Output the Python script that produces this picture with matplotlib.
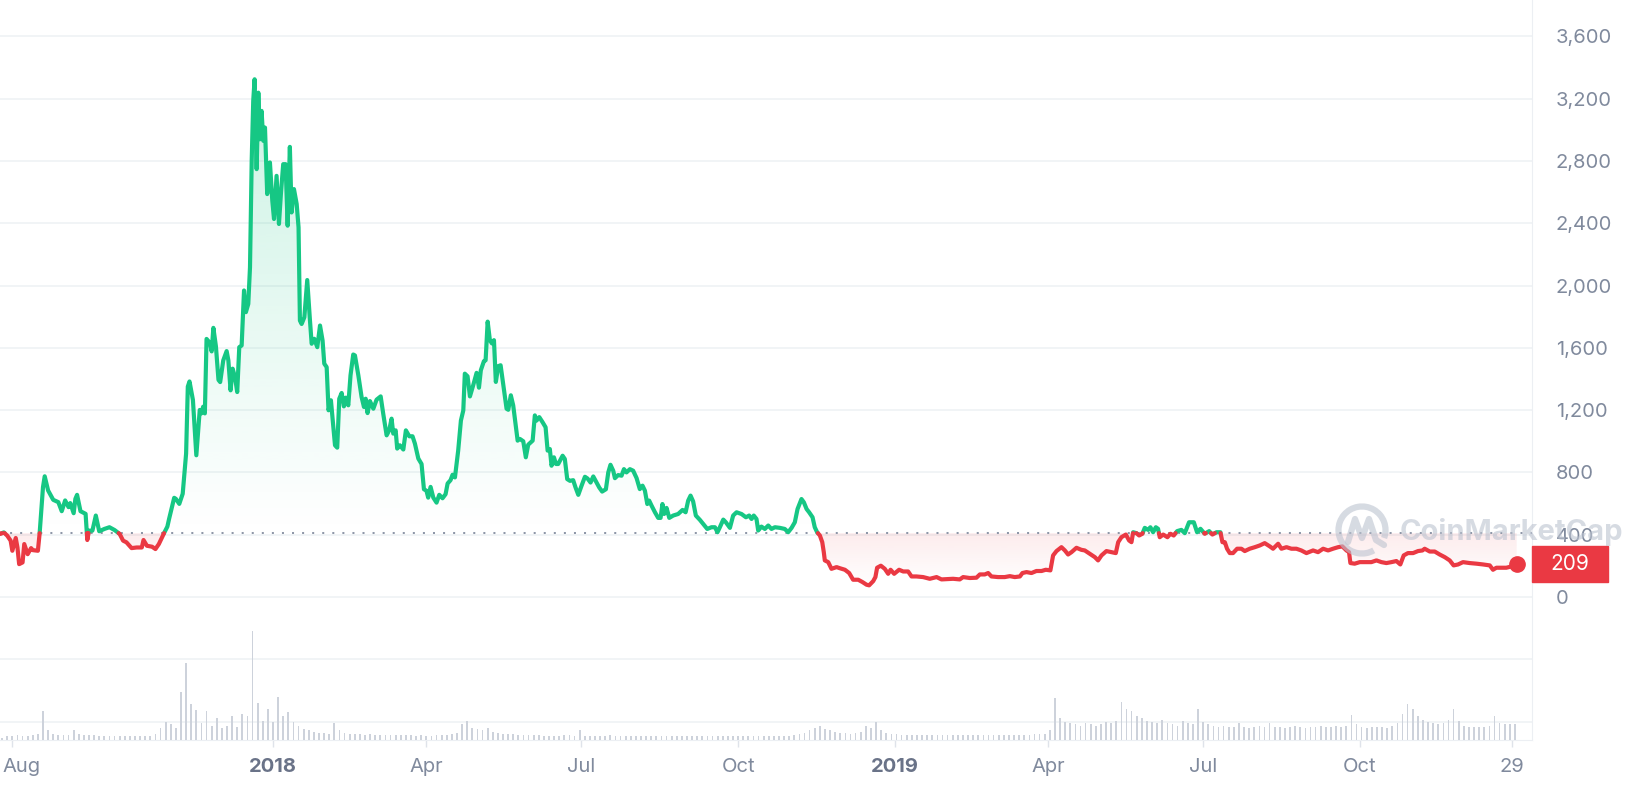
import matplotlib.pyplot as plt
import matplotlib.dates as mdates
import matplotlib.transforms as mtransforms
from matplotlib.patches import Rectangle, Arc
from matplotlib.path import Path
from matplotlib.colors import to_rgb
from matplotlib.ticker import FuncFormatter
import numpy as np
import pandas as pd

plt.rcParams['font.family'] = ['Inter', 'DejaVu Sans']

# price history, days counted from 2017-07-23
start = pd.Timestamp('2017-07-23')
ref_price = 410

day = [1, 2, 4, 6, 8, 9, 11, 12, 13, 15, 16, 18, 20, 21, 24, 25, 27, 28, 30, 33,
       36, 38, 40, 42, 43, 45, 46, 47, 49, 52, 53, 54, 56, 58, 60, 63, 66, 69, 72, 74,
       76, 79, 82, 85, 86, 88, 91, 93, 95, 98, 100, 101, 104, 105, 107, 109, 111, 112, 113, 115,
       117, 119, 120, 121, 122, 123, 125, 126, 127, 128.5,
       130, 131, 132.8, 134.8, 135.8, 137.1, 138.3, 139.7, 141, 142.2, 143.6, 145, 146.1, 147.5, 148.5,
       149.5, 150.4, 151.2, 152.4, 153.4, 154.3, 155.3, 156.3, 157.3, 158.6, 160.2, 161.6, 162.6, 164.1,
       165.5, 166.7, 168, 169.4, 170.6, 171.9, 172.9, 174.3, 175.9, 177, 177.8, 178.8, 180.4, 182.1,
       183.7, 184.7, 186.2, 188, 189.6, 191.1, 192.1, 193.5, 194.6, 196, 197.4, 198.4, 199.7, 200.9,
       202.3, 203.6, 204.8, 206.2, 207.5, 209.1, 210.1, 212.1, 214, 215.4, 216.4, 217.5, 218.9, 220.9,
       222.8, 225.2, 226.7, 228.7, 230.2, 231.6, 232.6, 234, 234.9, 236.5, 238.5, 240, 242, 243.9,
       245.3, 247.3,
       249.2, 250.6, 252.1, 253.1, 254.5, 256.1, 258, 259.6, 261.5, 263.3, 264.5, 266.2, 267.4, 268.8,
       270.7, 272.3, 273.7, 274.6, 276.2, 277.6, 279.5, 281.5, 282.9, 284, 285.8, 286.8, 288, 289.3,
       290.5, 291.7, 292.8, 294.2, 295.6, 297.1, 299.1, 300.1, 301.6, 303, 305.6, 306.9, 308.9, 310.4,
       311.8, 314.4, 315.7, 316.7, 318.3, 320.2, 322, 323.2, 324.5, 325.5, 326.9, 328.1, 329.4, 332,
       333.3, 334.7, 336.3, 338.2, 339.6, 341.2, 343.1, 345.1, 346.6, 348.4, 350, 351.9, 353.5, 355.2,
       357.4, 358.8, 360.1, 361.7, 362.7, 364.6,
       366.6, 368, 369.5, 371.5, 373.4, 375.4, 377.3, 378.9, 380.3, 381.7, 382.8, 384.2, 386.2, 388.1,
       389.5, 390.6, 391.6, 393, 394.6, 396.9, 399.8, 402.4, 404.2, 405.7, 407.1, 408.6, 410.2, 412.6,
       414.5, 416.9, 419.4, 421.4, 422.9, 424.3, 426.3, 427.8, 430.2, 432.1, 434.1, 437, 439.6, 441.5,
       442.9, 444.2, 445.8, 446.8, 448.7, 450.7, 452.7, 454.6, 456.6, 459.5, 462.4, 464.4, 466.4, 468.3,
       469.9, 472.2, 473.6, 475.2, 476.7, 478.7, 480, 481.4, 483, 484.4, 485.3, 485.9, 487.9, 489.8,
       492.8, 494.7,
       497.7, 500.2, 502.5, 505.5, 508, 510.4, 511.9, 514.3, 515.6, 516.6, 518.8, 521.1, 523.1, 524.5,
       526.6, 529.5, 531.9, 534.8, 536.8, 539.7, 543.6, 547.5, 551.5, 554.4, 557.3, 561.2, 565.1, 567.1,
       571, 574.9, 576.9, 579.8, 581.8, 583.7, 587.6, 591.5, 594.5, 597.4, 600.4, 601.9, 604.3, 607.2,
       610.1, 613.1, 615.6, 618.3, 619.9, 621.9, 624.8, 626.8, 628.7, 630.7, 633.6,
       636.5, 638.5, 641.4, 644.4, 646.3, 648.3, 651.2, 654.1, 656.7, 658.1, 660, 662.6, 664.5, 665.9,
       666.9, 668.8, 670.4, 672.3, 673.7, 675.7, 677, 678.6, 680.2, 681.5, 682.5, 684.5, 687, 688.8,
       690.7, 692.7, 695.2, 697.2, 699.7, 702.5, 704.4, 706.4, 708.9, 711.5, 713.4, 715.8, 718.1, 719.3,
       720.7, 722, 723.6, 725.5, 727.9, 730.4, 732.4, 735.3, 738.3, 741.2, 744.1, 747.1, 749, 752,
       753.9, 756.9, 759.8, 762.7,
       765.6, 768.6, 772.5, 775.4, 778.4, 781.3, 784.2, 787.2, 789.7, 792.1, 793.6, 794.4, 796.9, 799.9,
       803.8, 806.7, 809.7, 812.6, 815.5, 818.5, 821.4, 823.7, 825.7, 828.2, 831.2, 834.1, 836.7, 838,
       841, 843.9, 846.8, 849.8, 852.7, 855, 857.6, 860.5, 864.4, 868.4, 872.3, 876.2, 878.1, 880.1,
       883, 885.9, 888.9, 892]

price = [410, 405, 415, 394, 362, 297, 379, 318, 211, 222, 340, 275, 314, 301, 297, 405, 706, 775, 684, 624,
         609, 551, 620, 577, 603, 538, 630, 656, 551, 534, 366, 426, 426, 523, 422, 437, 448, 430, 405, 362,
         351, 314, 318, 318, 366, 329, 323, 308, 340, 409, 452, 501, 637, 630, 598, 663, 921, 1351, 1384, 1265,
         910, 1201, 1179, 1222, 1179, 1657, 1631, 1577, 1728, 1609,
         1394, 1380, 1519, 1579, 1519, 1327, 1466, 1412, 1316, 1604, 1615, 1968, 1829, 1882, 2117,
         2801, 3185, 3324, 2747, 3238, 2939, 3121, 2929, 3014, 2587, 2790, 2544, 2427, 2704,
         2395, 2598, 2779, 2779, 2384, 2890, 2469, 2619, 2523, 2373, 1775, 1753, 1796, 2035,
         1775, 1626, 1658, 1604, 1743, 1647, 1498, 1476, 1199, 1263, 1092, 974, 959, 1273,
         1310, 1224, 1280, 1231, 1423, 1557, 1551, 1423, 1284, 1220, 1273, 1181, 1258, 1209,
         1267, 1288, 1177, 1038, 1070, 1145, 1049, 1070, 953, 974, 947, 1070, 1032, 1032,
         985, 889,
         854, 692, 682, 638, 707, 638, 606, 656, 634, 660, 729, 750, 785, 768,
         940, 1133, 1198, 1434, 1417, 1288, 1359, 1439, 1344, 1456, 1514, 1520, 1768, 1649,
         1628, 1649, 1381, 1482, 1488, 1370, 1209, 1202, 1295, 1230, 1004, 1015, 1000, 897,
         978, 1004, 1166, 1133, 1155, 1123, 1090, 940, 950, 843, 897, 854, 854, 907,
         886, 757, 746, 750, 703, 656, 714, 772, 761, 735, 774, 735, 703, 677,
         692, 800, 849, 811, 763, 783,
         779, 821, 800, 821, 811, 764, 693, 715, 683, 597, 619, 587, 544, 508,
         508, 597, 533, 572, 508, 523, 533, 559, 544, 619, 651, 614, 523, 495,
         469, 437, 448, 448, 416, 448, 497, 480, 444, 523, 544, 533, 512, 523,
         501, 523, 501, 427, 452, 437, 459, 437, 448, 444, 437, 416, 444, 480,
         565, 629, 608, 565, 544, 512, 448, 416, 395, 352, 288, 235, 224, 181,
         192, 185,
         175, 154, 111, 111, 96, 79, 75, 102, 128, 188, 201, 181, 149, 175,
         149, 175, 164, 164, 132, 132, 128, 117, 128, 113, 115, 117, 113, 128,
         122, 124, 145, 145, 154, 132, 128, 128, 134, 128, 132, 154, 160, 154,
         167, 167, 175, 171, 267, 295, 320, 299, 273, 288, 316,
         303, 299, 278, 256, 235, 267, 295, 288, 282, 352, 384, 401, 363, 352,
         416, 410, 395, 406, 444, 431, 448, 416, 448, 438, 384, 401, 384, 406,
         395, 423, 431, 410, 480, 480, 416, 438, 406, 423, 401, 416, 416, 352,
         352, 310, 282, 282, 310, 310, 295, 310, 320, 331, 346, 325, 310, 342,
         310, 320, 310, 310,
         299, 282, 299, 288, 310, 299, 310, 320, 325, 299, 288, 218, 214, 224,
         224, 224, 235, 224, 218, 224, 231, 209, 267, 282, 282, 295, 299, 310,
         292, 292, 273, 256, 235, 203, 209, 224, 218, 214, 209, 203, 175, 188,
         188, 188, 196, 209]

# traded volume (bn USD), one bar every third day from 2017-07-26
volume = [0.2, 0.3, 0.3, 0.4, 0.3, 0.3, 0.4, 0.5, 2.4, 0.8,
          0.5, 0.4, 0.4, 0.4, 0.8, 0.5, 0.4, 0.4, 0.4, 0.3,
          0.3, 0.3, 0.3, 0.3, 0.3, 0.3, 0.3, 0.3, 0.3, 0.3,
          0.5, 1.0, 1.5, 1.3, 1.0, 4.0, 6.4, 3.0, 2.5, 1.4,
          2.4, 1.2, 1.8, 1.0, 1.2, 2.0, 1.1, 2.2, 2.0, 9.1,
          3.1, 1.6, 2.6, 1.5, 3.6, 2.0, 2.3, 1.5, 1.2, 0.9,
          0.8, 0.7, 0.6, 0.6, 0.5, 1.4, 0.8, 0.6, 0.5, 0.5,
          0.5, 0.4, 0.5, 0.4, 0.4, 0.4, 0.4, 0.4, 0.4, 0.4,
          0.4, 0.3, 0.4, 0.3, 0.3, 0.4, 0.4, 0.4, 0.5, 0.6,
          1.3, 1.6, 1.0, 0.9, 0.8, 1.0, 0.7, 0.6, 0.5, 0.5,
          0.5, 0.4, 0.4, 0.4, 0.4, 0.4, 0.3, 0.3, 0.3, 0.3,
          0.4, 0.4, 0.3, 0.8, 0.3, 0.3, 0.3, 0.3, 0.3, 0.4,
          0.3, 0.3, 0.3, 0.3, 0.3, 0.3, 0.3, 0.3, 0.3, 0.3,
          0.3, 0.3, 0.3, 0.3, 0.3, 0.3, 0.3, 0.3, 0.3, 0.3,
          0.3, 0.3, 0.3, 0.3, 0.3, 0.3, 0.3, 0.3, 0.3, 0.3,
          0.3, 0.3, 0.3, 0.3, 0.3, 0.4, 0.5, 0.6, 0.8, 1.0,
          1.2, 0.9, 0.8, 0.7, 0.6, 0.6, 0.5, 0.6, 0.7, 1.2,
          1.0, 1.5, 0.8, 0.6, 0.5, 0.5, 0.4, 0.4, 0.4, 0.4,
          0.4, 0.4, 0.4, 0.4, 0.4, 0.4, 0.4, 0.4, 0.4, 0.4,
          0.4, 0.4, 0.4, 0.4, 0.4, 0.4, 0.4, 0.4, 0.4, 0.4,
          0.4, 0.4, 0.5, 0.5, 0.5, 0.8, 3.5, 1.8, 1.5, 1.4,
          1.3, 1.2, 1.4, 1.3, 1.2, 1.3, 1.5, 1.4, 1.6, 3.2,
          2.6, 2.4, 2.0, 1.8, 1.6, 1.5, 1.4, 1.7, 1.4, 1.3,
          1.2, 1.6, 1.4, 1.3, 2.6, 1.5, 1.3, 1.2, 1.1, 1.2,
          1.1, 1.1, 1.4, 1.1, 1.0, 1.1, 1.2, 1.1, 1.4, 1.1,
          1.1, 1.0, 1.1, 1.2, 1.1, 1.0, 1.1, 1.1, 1.2, 1.1,
          1.1, 1.2, 1.1, 1.2, 2.1, 1.3, 1.1, 1.0, 1.1, 1.1,
          1.1, 1.0, 1.2, 1.4, 2.2, 3.0, 2.6, 2.0, 1.7, 1.5,
          1.4, 1.3, 1.4, 1.7, 2.6, 1.6, 1.2, 1.1, 1.1, 1.1,
          1.1, 1.2, 2.0, 1.4, 1.3, 1.3, 1.3]

tick_dates = ['2017-08-01', '2018-01-01', '2018-04-01', '2018-07-01', '2018-10-01',
              '2019-01-01', '2019-04-01', '2019-07-01', '2019-10-01', '2019-12-29']
tick_labels = ['Aug', '2018', 'Apr', 'Jul', 'Oct', '2019', 'Apr', 'Jul', 'Oct', '29']
y_ticks = [0, 400, 800, 1200, 1600, 2000, 2400, 2800, 3200, 3600]

GREEN = '#16c784'
RED = '#ea3943'
GRID = '#eff2f5'
TXT = '#808a9d'

fig = plt.figure(figsize=(16.28, 7.92), dpi=100)
ax = fig.add_axes([0, 52 / 792, 1532 / 1628, 740 / 792])

# volume bars on a twin axis (made first so the price axis keeps its right-hand ticks)
ax2 = ax.twinx()
vol_dates = pd.date_range('2017-07-26', periods=len(volume), freq='3D')
ax2.bar(mdates.date2num(vol_dates.to_numpy()), volume, width=1.0, color='#cdd2db', lw=0)
ax2.set_ylim(0, 61.7)
ax2.axis('off')

# add the points where the line crosses the reference price
d = np.array(day, float)
p = np.array(price, float)
xs, ys = [d[0]], [p[0]]
for i in range(1, len(d)):
    a, b = p[i - 1] - ref_price, p[i] - ref_price
    if a * b < 0:
        t = a / (a - b)
        xs.append(d[i - 1] + t * (d[i] - d[i - 1]))
        ys.append(ref_price)
    xs.append(d[i])
    ys.append(p[i])
xs = np.array(xs)
ys = np.array(ys)
xnum = mdates.date2num((start + pd.to_timedelta(xs, unit='D')).to_numpy())


def gradient_fill(mask, color, y0, y1, a0, a1):
    coll = ax.fill_between(xnum, ys, ref_price, where=mask, color='none', lw=0)
    clip = Path.make_compound_path(*coll.get_paths())
    coll.remove()
    rgba = np.zeros((256, 1, 4))
    rgba[..., :3] = to_rgb(color)
    rgba[..., 3] = np.linspace(a0, a1, 256)[:, None]
    im = ax.imshow(rgba, origin='lower', aspect='auto', interpolation='bilinear',
                   extent=[xnum[0], xnum[-1], y0, y1], zorder=1)
    im.set_clip_path(clip, transform=ax.transData)


gradient_fill(ys >= ref_price, GREEN, ref_price, ys.max(), 0.0, 0.22)
gradient_fill(ys <= ref_price, RED, ys.min(), ref_price, 0.0, 0.10)

ax.axhline(ref_price, color='#8f97a8', lw=1.45, ls=(0, (1, 4)), zorder=2)
ax.plot(xnum, np.where(ys >= ref_price, ys, np.nan), color=GREEN, lw=3.0,
        solid_joinstyle='round', solid_capstyle='round', zorder=3)
ax.plot(xnum, np.where(ys <= ref_price, ys, np.nan), color=RED, lw=3.0,
        solid_joinstyle='round', solid_capstyle='round', zorder=3)
ax.plot(xnum[-1], ys[-1], 'o', ms=11, color=RED, zorder=4)

# grid + axes styling
ax.set_yticks(y_ticks)
ax.yaxis.set_major_formatter(FuncFormatter(lambda v, _: f'{v:,.0f}'))
ax.yaxis.tick_right()
ax.yaxis.set_label_position('right')
ax.tick_params(axis='y', which='both', left=False, labelleft=False, right=False, labelright=True,
               length=0, pad=17, labelsize=14.5, labelcolor=TXT)
ax.grid(axis='y', color=GRID, lw=1.2, zorder=0)
for v in (-400, -800):
    ax.axhline(v, color=GRID, lw=1.2, zorder=0)
ax.set_axisbelow(True)

ax.set_xticks(mdates.date2num(pd.to_datetime(tick_dates).to_numpy()))
ax.set_xticklabels(tick_labels)
ax.tick_params(axis='x', length=5, width=1, color='#dfe3ea', pad=8, labelsize=14.5, labelcolor=TXT)
for lab in ax.get_xticklabels():
    if lab.get_text().startswith('20'):
        lab.set_fontweight('bold')
        lab.set_color('#6a7388')
first = ax.get_xticklabels()[0]
first.set_ha('left')
first.set_transform(first.get_transform() + mtransforms.ScaledTranslation(-0.10, 0, fig.dpi_scale_trans))

for s in ('top', 'left'):
    ax.spines[s].set_visible(False)
ax.spines['right'].set_color('#eceff3')
ax.spines['bottom'].set_color('#eceff3')

ax.set_xlim(mdates.date2num(start + pd.Timedelta(days=1.76)), mdates.date2num(start + pd.Timedelta(days=901)))
ax.set_ylim(-918, 3833)

# last price tag
blend = mtransforms.blended_transform_factory(ax.transAxes, ax.transData)
ax.add_patch(Rectangle((1.0, price[-1] - 115), 76 / 1532, 231, transform=blend,
                       color=RED, clip_on=False, zorder=5))
ax.text(1.0 + 38 / 1532, price[-1], f'{price[-1]:.0f}', transform=blend, ha='center', va='center',
        color='white', fontsize=15, zorder=6)

# watermark
wm = fig.add_axes([0, 0, 1, 1])
wm.set_xlim(0, 1628)
wm.set_ylim(792, 0)
wm.axis('off')
wm_col = '#bcc3d0'
wm.add_patch(Arc((1362, 530), 47, 47, theta1=60, theta2=380, lw=4.5, color=wm_col, alpha=0.6))
wm.plot([1348, 1355, 1362, 1369, 1376, 1384], [542, 519, 538, 519, 540, 545], color=wm_col,
        lw=4.5, alpha=0.6, solid_joinstyle='round', solid_capstyle='round')
wm.text(1400, 532, 'CoinMarketCap', fontsize=21, fontweight='bold', color=wm_col, alpha=0.6,
        ha='left', va='center')

fig.savefig('out.png', dpi=100)
